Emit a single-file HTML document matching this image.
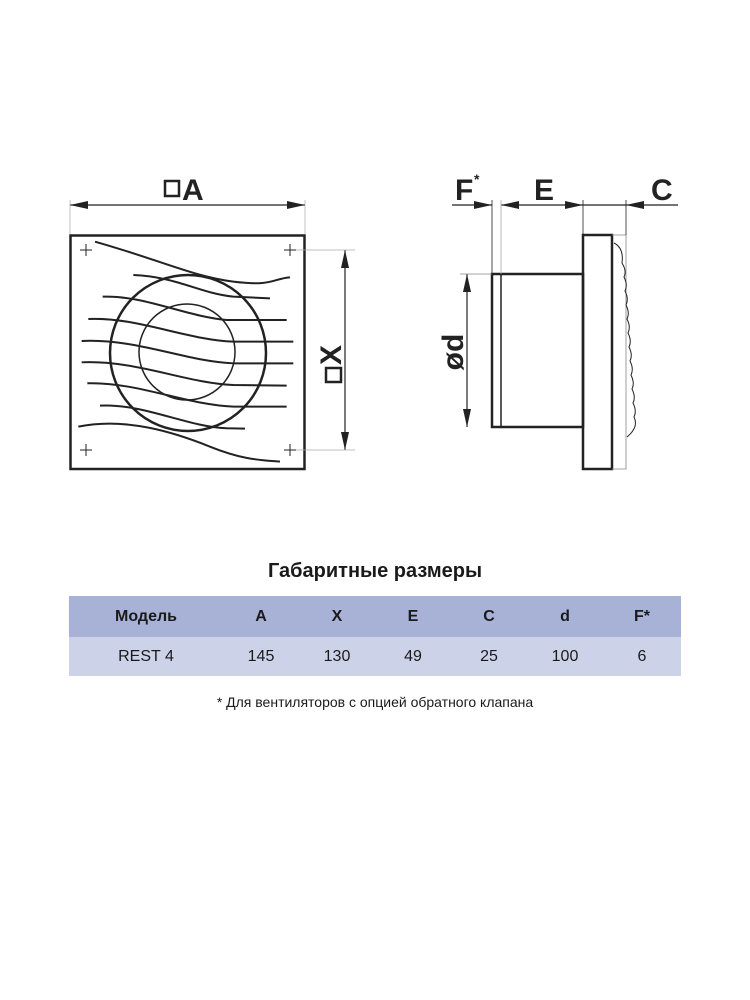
<!DOCTYPE html>
<html><head><meta charset="utf-8"><style>
body{margin:0;background:#fff;width:750px;height:1000px;position:relative;overflow:hidden;font-family:"Liberation Sans","DejaVu Sans",sans-serif;}
.t{position:absolute;left:0;width:750px;text-align:center;color:#1a1a1a}
table{position:absolute;left:69px;top:596px;width:612px;border-collapse:collapse;font-size:16px;color:#1a1a1a;table-layout:fixed}
td{text-align:center;padding:0}
</style></head><body>
<svg width="750" height="540" style="position:absolute;left:0;top:0" xmlns="http://www.w3.org/2000/svg">
<defs>
<marker id="ar" viewBox="0 0 18 8" refX="18" refY="4" markerWidth="18" markerHeight="8" markerUnits="userSpaceOnUse" orient="auto-start-reverse" preserveAspectRatio="none"><path d="M0,0 L18,4 L0,8z" fill="#222"/></marker>
</defs>
<g stroke="#222" fill="none">
<!-- left view -->
<rect x="70.5" y="235.5" width="234" height="233.5" stroke-width="2.5"/>
<line x1="70" y1="205" x2="305" y2="205" stroke-width="1.2" marker-start="url(#ar)" marker-end="url(#ar)"/>
<line x1="70" y1="200" x2="70" y2="234" stroke="#aaa" stroke-width="0.7"/>
<line x1="305" y1="200" x2="305" y2="234" stroke="#aaa" stroke-width="0.7"/>
<line x1="345" y1="250" x2="345" y2="450" stroke-width="1.2" marker-start="url(#ar)" marker-end="url(#ar)"/>
<line x1="295" y1="250" x2="355" y2="250" stroke="#aaa" stroke-width="0.7"/>
<line x1="295" y1="450" x2="355" y2="450" stroke="#aaa" stroke-width="0.7"/>
<g stroke-width="1">
<path d="M80,250h12M86,244v12M284,250h12M290,244v12M80,450h12M86,444v12M284,450h12M290,444v12"/>
</g>
<circle cx="188" cy="353" r="78" stroke-width="2.5"/>
<circle cx="187" cy="352" r="48" stroke-width="1.5"/>
<g transform="translate(60,160) scale(0.3333)" stroke-width="6">
<path d="M105,245 C300,300 400,350 520,365 S640,355 690,352"/>
<path d="M220,345 C350,350 420,400 520,410 L630,415"/>
<path d="M128,410 C250,405 380,470 500,480 L680,480"/>
<path d="M85,477 C230,470 380,540 520,545 L700,545"/>
<path d="M65,543 C230,535 380,605 520,610 L700,610"/>
<path d="M65,607 C230,600 380,670 520,675 L680,677"/>
<path d="M82,670 C230,665 380,735 520,740 L680,740"/>
<path d="M120,737 C250,730 380,800 500,805 L555,806"/>
<path d="M55,800 C200,770 350,820 450,860 S600,900 660,905"/>
</g>
<!-- right view -->
<rect x="492" y="274" width="91" height="153" stroke-width="2.5"/>
<line x1="501" y1="274" x2="501" y2="427" stroke-width="1.5"/>
<rect x="583" y="235" width="29" height="234" stroke-width="2.5"/>
<path d="M612,235 H626 V469 H612" stroke="#888" stroke-width="0.8"/>
<path d="M614,243 q10,5 8,20 q5,8 2,14 q4,8 1,14 q4,8 1,14 q4,8 1,14 q4,8 1,14 q4,8 1,14 q4,8 1,14 q4,8 1,14 q4,8 1,14 q4,8 1,14 q4,8 1,14 q5,10 -7,20" stroke-width="1"/>
<line x1="452" y1="205" x2="492" y2="205" stroke-width="1.2" marker-end="url(#ar)"/>
<line x1="540" y1="205" x2="501" y2="205" stroke-width="1.2" marker-end="url(#ar)"/>
<line x1="540" y1="205" x2="583" y2="205" stroke-width="1.2" marker-end="url(#ar)"/>
<line x1="678" y1="205" x2="626" y2="205" stroke-width="1.2" marker-end="url(#ar)"/>
<line x1="583" y1="205" x2="626" y2="205" stroke-width="1.2"/>
<line x1="492" y1="200" x2="492" y2="274" stroke-width="0.8"/>
<line x1="501" y1="200" x2="501" y2="274" stroke="#aaa" stroke-width="0.8"/>
<line x1="583" y1="200" x2="583" y2="235" stroke-width="0.8"/>
<line x1="626" y1="200" x2="626" y2="235" stroke-width="0.8"/>
<line x1="467" y1="274" x2="467" y2="427" stroke-width="1.2" marker-start="url(#ar)" marker-end="url(#ar)"/>
<line x1="460" y1="274" x2="492" y2="274" stroke="#888" stroke-width="0.7"/>
</g>
<g font-family="Liberation Sans, sans-serif" font-weight="bold" fill="#222" font-size="30">
<rect x="165" y="181" width="14" height="15" fill="none" stroke="#222" stroke-width="2.5"/>
<text x="182" y="200">A</text>
<g transform="translate(340,352) rotate(-90)">
<rect x="-30" y="-14" width="14" height="15" fill="none" stroke="#222" stroke-width="2.5"/>
<text x="-13" y="1">X</text>
</g>
<text x="455" y="200">F</text><text x="474" y="184" font-size="14">*</text>
<text x="534" y="200">E</text>
<text x="651" y="200">C</text>
<text transform="translate(463,352) rotate(-90)" text-anchor="middle">ød</text>
</g>
</svg>
<div class="t" style="top:560px;font-size:20px;font-weight:bold">Габаритные размеры</div>
<table>
<colgroup><col style="width:154px"><col style="width:76px"><col style="width:76px"><col style="width:76px"><col style="width:76px"><col style="width:76px"><col style="width:78px"></colgroup>
<tr style="background:#a8b2d7;height:41px;font-weight:bold"><td>Модель</td><td>A</td><td>X</td><td>E</td><td>C</td><td>d</td><td>F*</td></tr>
<tr style="background:#ccd2e8;height:39px"><td>REST 4</td><td>145</td><td>130</td><td>49</td><td>25</td><td>100</td><td>6</td></tr>
</table>
<div class="t" style="top:694px;font-size:14px">* Для вентиляторов с опцией обратного клапана</div>
</body></html>
